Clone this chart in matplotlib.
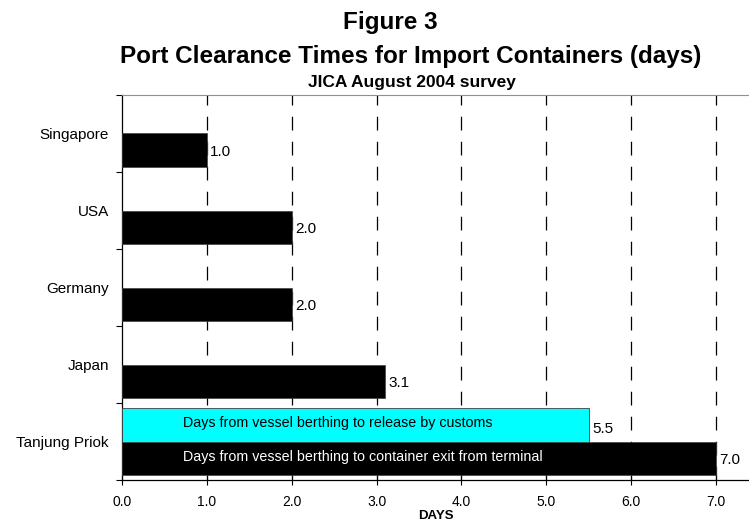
import matplotlib
matplotlib.use("Agg")
import matplotlib.pyplot as plt
import numpy as np

plt.rcParams['font.family'] = ['Liberation Sans', 'DejaVu Sans']

# data
countries = ["Singapore", "USA", "Germany", "Japan", "Tanjung Priok"]
exit_days = [1.0, 2.0, 2.0, 3.1, 7.0]      # black series
customs_days = [None, None, None, None, 5.5]  # cyan series (only Tanjung Priok)
exit_text = "Days from vessel berthing to container exit from terminal"
customs_text = "Days from vessel berthing to release by customs"
xticks = np.arange(0, 8)

fig = plt.figure(figsize=(7.49, 5.23), dpi=100)
ax = fig.add_axes([122/749, 1 - 480/523, 1 - 122/749, (480 - 95)/523])

pos = np.arange(len(countries)) + 0.5
h = 0.43
off = 0.215

ax.barh(pos + off, exit_days, height=h, color="black", edgecolor="#404040", lw=0.5, zorder=3)
for y, v in zip(pos, customs_days):
    if v is not None:
        ax.barh(y - off, v, height=h, color="#00FFFF", edgecolor="#404040", lw=0.6, zorder=3)
        ax.text(v + 0.04, y - off + 0.05, f"{v:.1f}", va="center", ha="left", fontsize=11)
        ax.text(0.72, y - off - 0.02, customs_text, va="center", ha="left", fontsize=10.3, color="black", zorder=4)

for y, v in zip(pos, exit_days):
    ax.text(v + 0.04, y + off + 0.02, f"{v:.1f}", va="center", ha="left", fontsize=11)
ax.text(0.72, pos[-1] + off - 0.02, exit_text, va="center", ha="left", fontsize=10.3, color="white", zorder=4)

ax.set_xlim(0, 7.39)
ax.set_ylim(len(countries), 0)

# gridlines
for x in xticks[1:]:
    ax.axvline(x, color="black", lw=0.9, ls=(0, (11, 9)), zorder=1)

ax.set_xticks(xticks)
ax.set_xticklabels([f"{x:.1f}" for x in xticks], fontsize=10)
ax.tick_params(axis="x", direction="inout", length=7, width=0.8, pad=7)

ax.set_yticks(pos)
ax.set_yticklabels(countries, fontsize=11)
ax.tick_params(axis="y", which="major", length=0, pad=9.5)
ax.set_yticks(np.arange(len(countries) + 1), minor=True)
ax.tick_params(axis="y", which="minor", direction="out", length=4, width=0.8)

ax.spines["right"].set_visible(False)
ax.spines["top"].set_color("#909090")
ax.spines["left"].set_linewidth(0.9)
ax.spines["bottom"].set_linewidth(0.9)

ax.set_xlabel("DAYS", fontsize=9.5, fontweight="bold", labelpad=1)

fig.text(390/749, 1 - 29/523, "Figure 3", ha="center", va="baseline", fontsize=17.5, fontweight="bold")
fig.text(411/749, 1 - 63/523, "Port Clearance Times for Import Containers (days)",
         ha="center", va="baseline", fontsize=17.5, fontweight="bold")
fig.text(412/749, 1 - 87/523, "JICA August 2004 survey", ha="center", va="baseline",
         fontsize=12.5, fontweight="bold")

fig.savefig("out.png", dpi=100)
